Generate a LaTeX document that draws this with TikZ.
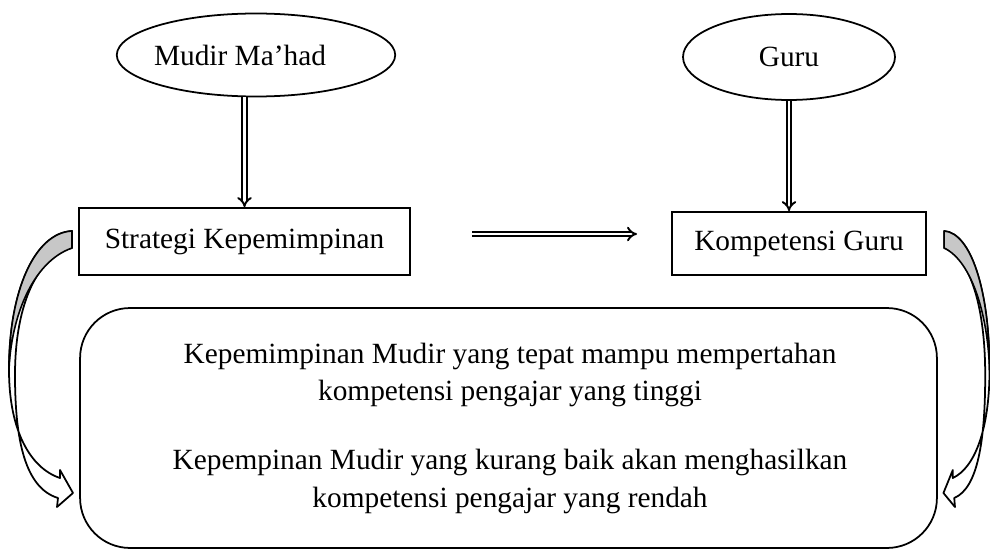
\documentclass[tikz,border=0pt]{standalone}
\usepackage{xcolor}
\usepackage{fontspec}
\setmainfont{Liberation Serif}
\usetikzlibrary{shapes.geometric,arrows.meta}

\tikzset{
  oval/.style={ellipse, draw, line width=1pt, inner sep=0pt},
  kotak/.style={rectangle, draw, line width=1pt, inner sep=0pt},
  panah/.style={double, double distance=1.6pt, line width=1.1pt, -{Implies}},
}

% curved ribbon arrow, left side
\newcommand{\lengkung}{%
  \filldraw[fill=white, line width=1pt, line join=round]
    (72,231) .. controls (35,233) and (9,290) .. (9,370)
    .. controls (9,430) and (30,468) .. (60,478)
    -- (60,470) -- (73,493) -- (57,507) -- (58,498)
    .. controls (25,488) and (15,440) .. (15,375)
    .. controls (15,300) and (40,255) .. (72,248) -- cycle;
  \filldraw[fill=black!22, line width=0.9pt, line join=round]
    (72,231) .. controls (35,233) and (9,290) .. (9,370)
    .. controls (11,318) and (32,262) .. (72,248) -- cycle;
}

\begin{document}
\begin{tikzpicture}[x=0.02cm,y=-0.02cm,font=\fontsize{16.7}{21.6}\selectfont]
                \useasboundingbox (0,0) rectangle (990,554);

                \node[oval, inner xsep=-2pt, minimum width=5.56cm, minimum height=1.66cm] (mudir) at (256,55) {Mudir Ma’had\hspace*{0.64cm}};
                \node[oval, minimum width=4.24cm, minimum height=1.72cm] (guru) at (789,57) {Guru};

                \node[kotak, minimum width=6.62cm, minimum height=1.34cm] (strategi) at (244.5,241.5) {Strategi Kepemimpinan};
                \node[kotak, minimum width=5.08cm, minimum height=1.26cm] (kompetensi) at (799,243.5) {Kompetensi Guru};

                \node[draw, line width=1pt, rounded corners=1cm, minimum width=17.14cm, minimum height=4.8cm] (hasil) at (508.5,428) {};
                \node[align=center] (p1) at (510,375) {Kepemimpinan Mudir yang tepat mampu mempertahan\\kompetensi pengajar yang tinggi};
                \node[align=center] (p2) at (510,481.5) {Kepempinan Mudir yang kurang baik akan menghasilkan\\kompetensi pengajar yang rendah};

                \draw[panah] (strategi.north |- mudir.south) -- (strategi.north);
                \draw[panah] (guru.south) -- (guru.south |- kompetensi.north);

                \coordinate (ka) at (472,234);
                \coordinate (kb) at (637,234);
                \draw[panah] (ka) -- (kb);

                \lengkung
                \begin{scope}[shift={(996,0)}, xscale=-0.72]
                  \lengkung
                \end{scope}
\end{tikzpicture}
\end{document}
